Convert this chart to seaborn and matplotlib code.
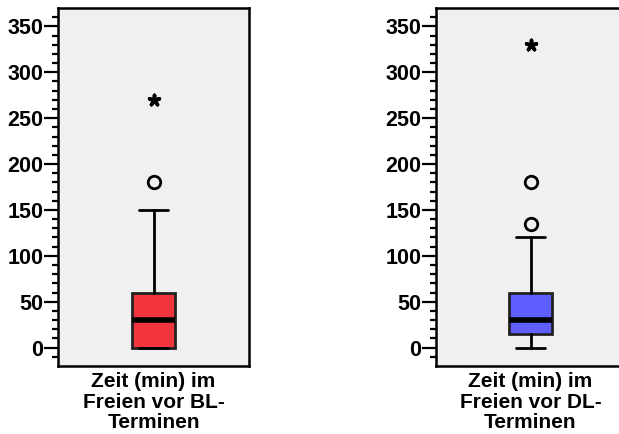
import matplotlib
matplotlib.use("Agg")
import matplotlib.pyplot as plt
import seaborn as sns

# Summary statistics for the two time variables (minutes outdoors)
labels = ["Zeit (min) im\nFreien vor BL-\nTerminen", "Zeit (min) im\nFreien vor DL-\nTerminen"]
colors = ["#F2353C", "#5F5FFF"]
whis_lo = [0, 0]
q1 = [0, 15]
median = [30, 30]
q3 = [60, 60]
whis_hi = [150, 120]
outliers = [[180], [135, 180]]
extremes = [[270], [330]]

yticks = [0, 50, 100, 150, 200, 250, 300, 350]

sns.set_theme(style="ticks")
plt.rcParams["font.family"] = ["Liberation Sans", "DejaVu Sans"]
plt.rcParams["font.weight"] = "bold"
plt.rcParams["text.color"] = "black"
plt.rcParams["ytick.labelcolor"] = "black"

fig = plt.figure(figsize=(6.19, 4.34), dpi=100)
W, H = 619, 434
axes_px = [(58, 249), (436, 625)]
top_px, bot_px = 8, 366

for i, (x0, x1) in enumerate(axes_px):
    ax = fig.add_axes([x0 / W, 1 - bot_px / H, (x1 - x0) / W, (bot_px - top_px) / H])
    ax.set_facecolor("#F0F0F0")
    stats = [dict(med=median[i], q1=q1[i], q3=q3[i], whislo=whis_lo[i],
                  whishi=whis_hi[i], fliers=outliers[i], label="")]
    ax.bxp(stats, positions=[0], widths=0.45, patch_artist=True,
           boxprops=dict(facecolor=colors[i], edgecolor="#222222", linewidth=2),
           medianprops=dict(color="black", linewidth=4, solid_capstyle="butt"),
           whiskerprops=dict(color="black", linewidth=2),
           capprops=dict(color="black", linewidth=2),
           capwidths=0.31,
           flierprops=dict(marker="o", markersize=9, markerfacecolor="none",
                           markeredgecolor="black", markeredgewidth=2))
    ax.scatter([0] * len(extremes[i]), extremes[i], marker=(5, 2, 0), s=55,
               color="black", linewidths=2.6, zorder=5)
    ax.set_xlim(-1, 1)
    ax.set_ylim(-20, 370)
    ax.set_yticks(yticks)
    ax.set_yticklabels([str(v) for v in yticks], fontsize=15.5, fontweight="bold",
                       color="black")
    ax.set_yticks(range(-10, 370, 10), minor=True)
    ax.tick_params(axis="y", which="major", length=10, width=1.6, color="black", pad=0.5)
    ax.tick_params(axis="y", which="minor", length=4, width=1.6, color="black")
    ax.set_xticks([])
    for s in ax.spines.values():
        s.set_color("black")
        s.set_linewidth(1.8)
    ax.text(0.5, -0.018, labels[i], transform=ax.transAxes, ha="center", va="top",
            fontsize=15, fontweight="bold", linespacing=1.08, color="black")

fig.savefig("out.png", dpi=100)
